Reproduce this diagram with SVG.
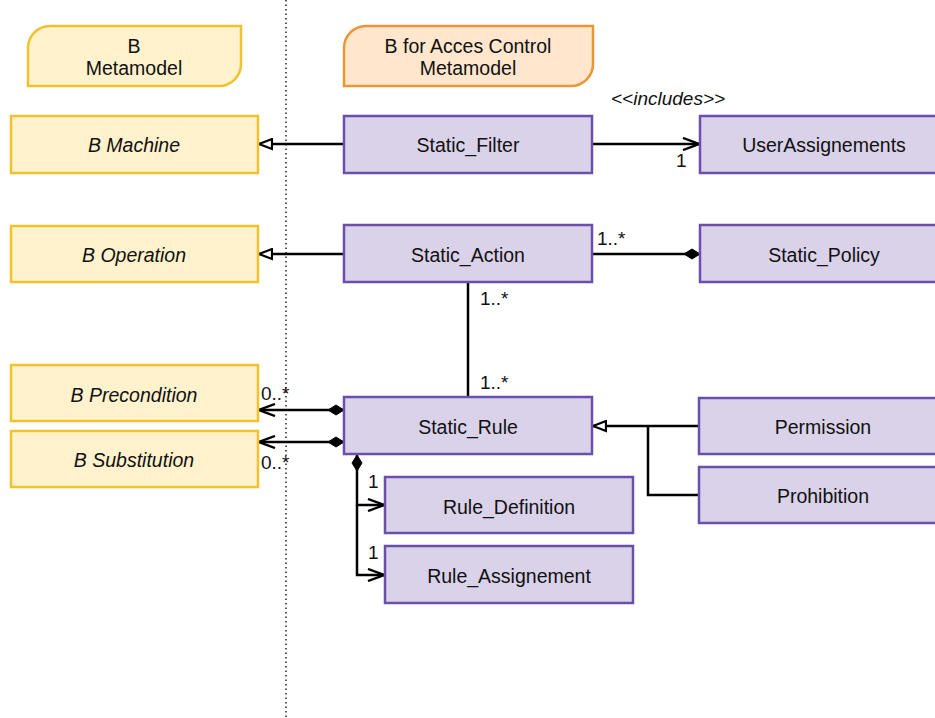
<svg xmlns="http://www.w3.org/2000/svg" width="935" height="718" viewBox="0 0 935 718">
<defs>
<style>
.t{font-family:"Liberation Sans",Arial,sans-serif;font-size:19.5px;fill:#111;text-anchor:middle}
.ti{font-style:italic}
.l{font-family:"Liberation Sans",Arial,sans-serif;font-size:19px;fill:#111}
.b{fill:#fff2cc;stroke:#f2c12e;stroke-width:2.5}
.o{fill:#ffe6cc;stroke:#eb9636;stroke-width:2.5}
.p{fill:#dad2e9;stroke:#6a50ad;stroke-width:2.5}
.c{fill:none;stroke:#000;stroke-width:2.5}
</style>
<marker id="tri" viewBox="0 0 15 13" refX="14" refY="6.5" markerWidth="15" markerHeight="13" markerUnits="userSpaceOnUse" orient="auto">
<path d="M1,1.5 L14,6.5 L1,11.5 Z" fill="#fff" stroke="#000" stroke-width="2.2"/>
</marker>
<marker id="open" viewBox="0 0 18 14" refX="17" refY="7" markerWidth="18" markerHeight="14" markerUnits="userSpaceOnUse" orient="auto">
<path d="M1,1 L17,7 L1,13" fill="none" stroke="#000" stroke-width="2.4"/>
</marker>
<marker id="dia" viewBox="0 0 18 12" refX="1" refY="6" markerWidth="18" markerHeight="12" markerUnits="userSpaceOnUse" orient="auto">
<path d="M1,6 L9,1 L17,6 L9,11 Z" fill="#000" stroke="#000" stroke-width="1"/>
</marker>
</defs>
<line x1="286" y1="0" x2="286" y2="718" stroke="#000" stroke-width="1.3" stroke-dasharray="1.5,3"/>
<g id="connectors">
<path class="c" d="M344,144 H259" marker-end="url(#tri)"/>
<path class="c" d="M592,144 H699" marker-end="url(#open)"/>
<path class="c" d="M344,254 H259" marker-end="url(#tri)"/>
<path class="c" d="M700,254 H592" marker-start="url(#dia)"/>
<path class="c" d="M468,282 V397"/>
<path class="c" d="M344,410 H259" marker-start="url(#dia)" marker-end="url(#open)"/>
<path class="c" d="M344,442 H259" marker-start="url(#dia)" marker-end="url(#open)"/>
<path class="c" d="M357,455 V505 H384" marker-start="url(#dia)" marker-end="url(#open)"/>
<path class="c" d="M357,505 V575 H384" marker-end="url(#open)"/>
<path class="c" d="M699,426 H593" marker-end="url(#tri)"/>
<path class="c" d="M699,495 H648 V426"/>
<text class="l ti" x="611" y="105">&lt;&lt;includes&gt;&gt;</text>
<text class="l" x="676" y="167">1</text>
<text class="l" x="597" y="245">1..*</text>
<text class="l" x="480" y="305">1..*</text>
<text class="l" x="480" y="389">1..*</text>
<text class="l" x="261" y="400">0..*</text>
<text class="l" x="261" y="469">0..*</text>
<text class="l" x="368" y="488">1</text>
<text class="l" x="368" y="559">1</text>
</g>
<g id="hdr-b"><path class="b" d="M50,26 H241 V64 A22,22 0 0 1 219,86 H28 V48 A22,22 0 0 1 50,26 Z"/><text class="t" x="134" y="53">B</text><text class="t" x="134" y="75">Metamodel</text></g>
<g id="hdr-ac"><path class="o" d="M366,26 H593 V64 A22,22 0 0 1 571,86 H344 V48 A22,22 0 0 1 366,26 Z"/><text class="t" x="468" y="53">B for Acces Control</text><text class="t" x="468" y="75">Metamodel</text></g>
<g id="b-machine"><rect class="b" x="11" y="116" width="247" height="57"/><text class="t ti" x="134" y="152">B Machine</text></g>
<g id="b-operation"><rect class="b" x="11" y="226" width="247" height="56"/><text class="t ti" x="134" y="262">B Operation</text></g>
<g id="b-precondition"><rect class="b" x="11" y="365" width="247" height="56"/><text class="t ti" x="134" y="402">B Precondition</text></g>
<g id="b-substitution"><rect class="b" x="11" y="431" width="247" height="56"/><text class="t ti" x="134" y="467">B Substitution</text></g>
<g id="static-filter"><rect class="p" x="344" y="116" width="248" height="57"/><text class="t" x="468" y="152">Static_Filter</text></g>
<g id="user-assignements"><rect class="p" x="700" y="116" width="248" height="57"/><text class="t" x="824" y="152">UserAssignements</text></g>
<g id="static-action"><rect class="p" x="344" y="225" width="248" height="57"/><text class="t" x="468" y="262">Static_Action</text></g>
<g id="static-policy"><rect class="p" x="700" y="225" width="248" height="57"/><text class="t" x="824" y="262">Static_Policy</text></g>
<g id="static-rule"><rect class="p" x="344" y="397" width="248" height="57"/><text class="t" x="468" y="434">Static_Rule</text></g>
<g id="permission"><rect class="p" x="699" y="398" width="248" height="56"/><text class="t" x="823" y="434">Permission</text></g>
<g id="prohibition"><rect class="p" x="699" y="467" width="248" height="56"/><text class="t" x="823" y="503">Prohibition</text></g>
<g id="rule-definition"><rect class="p" x="385" y="477" width="248" height="56"/><text class="t" x="509" y="514">Rule_Definition</text></g>
<g id="rule-assignement"><rect class="p" x="385" y="546" width="248" height="57"/><text class="t" x="509" y="583">Rule_Assignement</text></g>
</svg>
